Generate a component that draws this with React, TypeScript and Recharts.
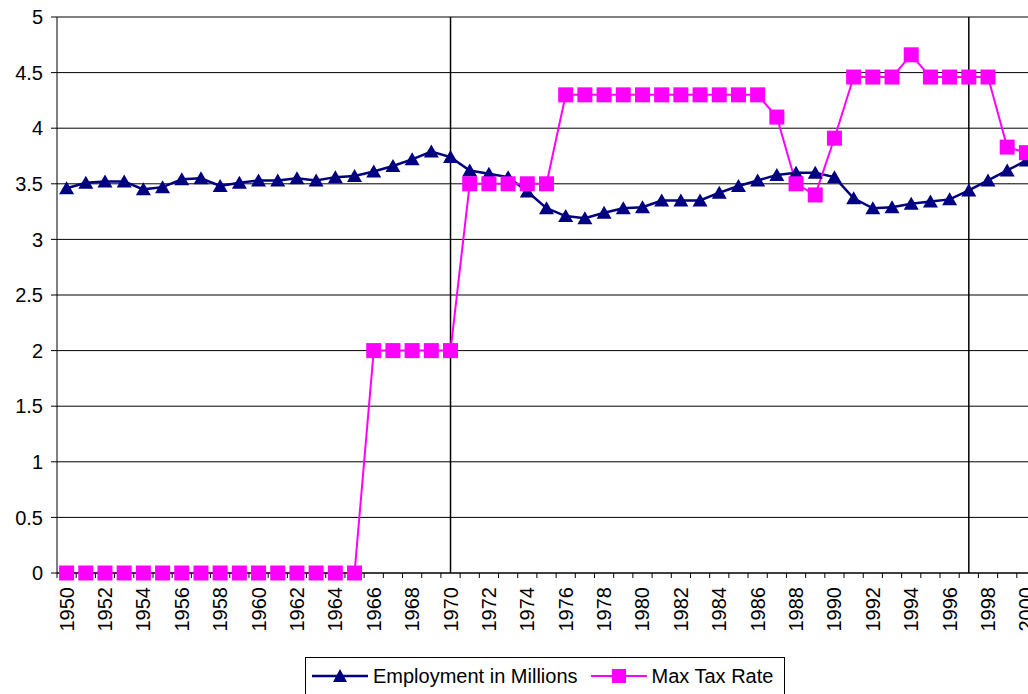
import { LineChart, Line, XAxis, YAxis, CartesianGrid, ReferenceLine, Legend } from 'recharts'

const years = [
  '1950', '1951', '1952', '1953', '1954', '1955', '1956', '1957', '1958', '1959',
  '1960', '1961', '1962', '1963', '1964', '1965', '1966', '1967', '1968', '1969',
  '1970', '1971', '1972', '1973', '1974', '1975', '1976', '1977', '1978', '1979',
  '1980', '1981', '1982', '1983', '1984', '1985', '1986', '1987', '1988', '1989',
  '1990', '1991', '1992', '1993', '1994', '1995', '1996', '1997', '1998', '1999',
  '2000',
]

const employment = [
  3.46, 3.51, 3.52, 3.52, 3.45, 3.47, 3.54, 3.55, 3.48, 3.51,
  3.53, 3.53, 3.55, 3.53, 3.56, 3.57, 3.61, 3.66, 3.72, 3.79,
  3.74, 3.62, 3.59, 3.56, 3.43, 3.28, 3.21, 3.19, 3.24, 3.28,
  3.29, 3.35, 3.35, 3.35, 3.42, 3.48, 3.53, 3.58, 3.6, 3.6,
  3.56, 3.37, 3.28, 3.29, 3.32, 3.34, 3.36, 3.44, 3.53, 3.62,
  3.71,
]

const maxTaxRate = [
  0, 0, 0, 0, 0, 0, 0, 0, 0, 0,
  0, 0, 0, 0, 0, 0, 2, 2, 2, 2,
  2, 3.5, 3.5, 3.5, 3.5, 3.5, 4.3, 4.3, 4.3, 4.3,
  4.3, 4.3, 4.3, 4.3, 4.3, 4.3, 4.3, 4.1, 3.5, 3.4,
  3.91, 4.46, 4.46, 4.46, 4.66, 4.46, 4.46, 4.46, 4.46, 3.83,
  3.78,
]

const yTicks = [0, 0.5, 1, 1.5, 2, 2.5, 3, 3.5, 4, 4.5, 5]
const markerYears = ['1970', '1997']

const data = years.map((year, i) => ({
  year,
  employment: employment[i],
  tax: maxTaxRate[i],
}))

const FONT = '"Liberation Sans", Arial, sans-serif'
const NAVY = '#000080'
const MAGENTA = '#FF00FF'

function Triangle({ cx, cy }: any) {
  if (cx == null || cy == null) return null
  return <path d={`M${cx},${cy - 7}L${cx + 7.5},${cy + 6}L${cx - 7.5},${cy + 6}Z`} fill={NAVY} />
}

function Square({ cx, cy }: any) {
  if (cx == null || cy == null) return null
  return <rect x={cx - 7.5} y={cy - 7.5} width={15} height={15} fill={MAGENTA} />
}

function YearTick({ x, y, payload }: any) {
  const half = payload?.offset || 9.6
  const year = Number(payload.value)
  return (
    <g>
      <line x1={x - half} x2={x - half} y1={y} y2={y + 5} stroke="#000" />
      {year % 2 === 0 && (
        <text
          transform={`translate(${x},${y + 14}) rotate(-90)`}
          textAnchor="end"
          dominantBaseline="central"
          fontSize={20}
          fontFamily={FONT}
          fill="#000"
        >
          {payload.value}
        </text>
      )}
    </g>
  )
}

function LegendBox() {
  return (
    <div
      style={{
        boxSizing: 'border-box',
        border: '1px solid #000',
        background: '#fff',
        height: 38,
        display: 'flex',
        alignItems: 'center',
        paddingLeft: 6,
        fontFamily: FONT,
        fontSize: 20,
        color: '#000',
        whiteSpace: 'nowrap',
      }}
    >
      <svg width={56} height={16} style={{ marginRight: 5 }}>
        <line x1={0} x2={56} y1={8} y2={8} stroke={NAVY} strokeWidth={2.5} />
        <path d="M28,1L35,14L21,14Z" fill={NAVY} />
      </svg>
      <span style={{ marginRight: 13 }}>Employment in Millions</span>
      <svg width={56} height={16} style={{ marginRight: 5 }}>
        <line x1={0} x2={56} y1={8} y2={8} stroke={MAGENTA} strokeWidth={2} />
        <rect x={21} y={1} width={14} height={14} fill={MAGENTA} />
      </svg>
      <span>Max Tax Rate</span>
    </div>
  )
}

export default function App() {
  return (
    <div style={{ position: 'absolute', left: 0, top: 0, width: 1028, height: 694, overflow: 'hidden', background: '#fff' }}>
      <LineChart width={1040} height={694} data={data} margin={{ top: 17, right: 4, bottom: 0, left: 0 }}>
        <CartesianGrid vertical={false} stroke="#000" strokeWidth={1} />
        <XAxis
          dataKey="year"
          scale="band"
          interval={0}
          tickLine={false}
          tickSize={0}
          tickMargin={0}
          height={83}
          stroke="#000"
          tick={<YearTick />}
        />
        <YAxis
          domain={[0, 5]}
          ticks={yTicks}
          width={57}
          tickSize={6}
          tickMargin={8}
          stroke="#000"
          tick={{ fill: '#000', fontSize: 20, fontFamily: FONT }}
        />
        {markerYears.map((y) => (
          <ReferenceLine key={y} x={y} stroke="#000" strokeWidth={1.5} />
        ))}
        <Line
          dataKey="employment"
          name="Employment in Millions"
          stroke={NAVY}
          strokeWidth={2.5}
          dot={<Triangle />}
          activeDot={false}
          isAnimationActive={false}
        />
        <Line
          dataKey="tax"
          name="Max Tax Rate"
          stroke={MAGENTA}
          strokeWidth={2}
          dot={<Square />}
          activeDot={false}
          isAnimationActive={false}
        />
        <Legend
          verticalAlign="bottom"
          content={<LegendBox />}
          wrapperStyle={{ position: 'absolute', left: 305, top: 657, width: 480, height: 38 }}
        />
      </LineChart>
    </div>
  )
}
